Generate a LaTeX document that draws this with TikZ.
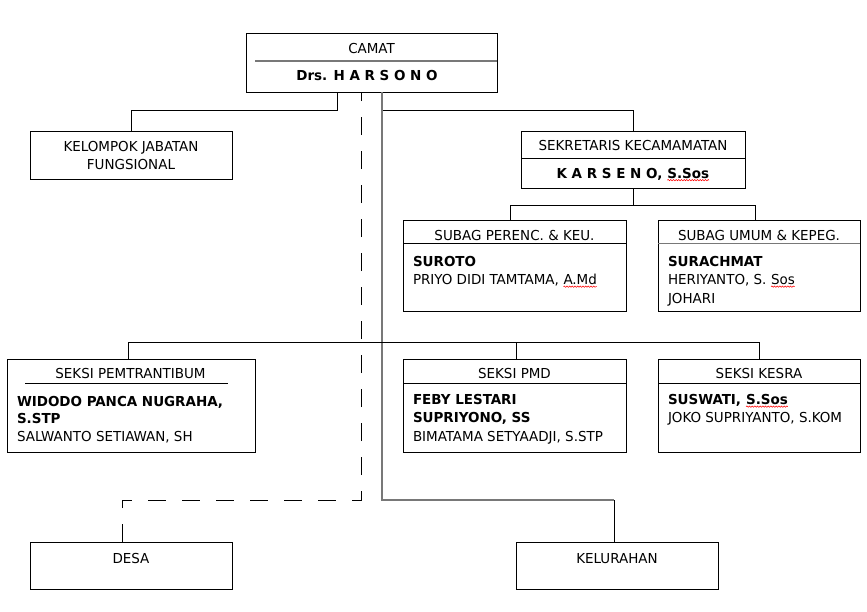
\documentclass[tikz,border=0pt]{standalone}
\usepackage{fontspec}
\setmainfont[FakeStretch=1.09]{DejaVu Sans Condensed}
\usetikzlibrary{fit,calc,decorations.pathmorphing}
\definecolor{lgray}{RGB}{120,120,120}
\newcommand\sperr[1]{\tikz[baseline=(w.base)]{\node[inner sep=0pt,outer sep=0pt](w){#1};\draw[red,line width=0.4pt,decorate,decoration={snake,amplitude=0.5pt,segment length=2pt}]([yshift=-1.6pt]w.base west)--([yshift=-1.6pt]w.base east);}}
\tikzset{
  box/.style={draw, line width=0.75pt, inner sep=0pt, outer sep=0pt},
  txt/.style={inner sep=0pt, outer sep=0pt, anchor=base, font=\fontsize{10.3}{12}\selectfont},
  txtb/.style={txt, font=\fontsize{10.3}{12}\selectfont\bfseries},
  ltxt/.style={txt, anchor=base west},
  ltxtb/.style={txtb, anchor=base west},
  conn/.style={line width=0.75pt},
  dsh/.style={conn, dash pattern=on 13.5pt off 12pt},
}
\begin{document}
\begin{tikzpicture}[x=0.75pt,y=-0.75pt]
\useasboundingbox (0,0) rectangle (867,611);
% boxes
\node[box, fit={(246,33)(497,92)}] (camat) {};
\node[box, fit={(30,131)(232,179)}] (kjf) {};
\node[box, fit={(521,131)(745,188)}] (sek) {};
\node[box, fit={(403,220)(626,311)}] (sp) {};
\node[box, fit={(658,220)(860,311)}] (su) {};
\node[box, fit={(7,359)(255,452)}] (pem) {};
\node[box, fit={(403,359)(626,452)}] (pmd) {};
\node[box, fit={(658,359)(860,452)}] (kesra) {};
\node[box, fit={(30,542)(232,589)}] (desa) {};
\node[box, fit={(516,542)(718,589)}] (kel) {};
% dividers
\draw[lgray, line width=1.5pt] (255,60.5) -- (497,60.5);
\draw[conn] (521,158) -- (745,158);
\draw[conn] (403,243.5) -- (626,243.5);
\draw[conn, lgray] (658,243.5) -- (860,243.5);
\draw[conn] (25,383.5) -- (228,383.5);
\draw[conn] (403,383.5) -- (626,383.5);
\draw[conn] (658,383.5) -- (860,383.5);
% connectors
\draw[conn] (camat.south west) ++(91,0) -- ++(0,18) -| (kjf.north);
\draw[conn] (camat.south west) ++(136,18) -| (sek.north);
\draw[conn, lgray, line width=1pt] (camat.south west) ++(136,0) -- ++(0,408) -| ($(kel.north)+(-3,-42)$);
\draw[conn] ($(kel.north)+(-3,0)$) -- ++(0,-42);
\draw[dsh] ($(desa.north west)+(92,0)$) |- ($(camat.south west)+(115,408)$) -- (camat.south west -| {$(camat.south west)+(115,0)$});
\draw[conn] (sek.south) -- ++(0,17);
\draw[conn] ($(sp.north)+(-4.5,0)$) |- ($(su.north)+(-4,-15)$) -- ($(su.north)+(-4,0)$);
\draw[conn] ($(pem.north)+(-3,0)$) -- ++(0,-17) -| (kesra.north);
\draw[conn] ($(pmd.north)+(1.5,0)$) -- ++(0,-17);
% texts
\node[txt] (t1) at (371.5,53) {CAMAT};
\node[txtb] (t2) at (367,80) {Drs. H A R S O N O};
\node[txt] (t3) at (131,151) {KELOMPOK JABATAN};
\node[txt] (t4) at (131,169) {FUNGSIONAL};
\node[txt] (t5) at (633,150) {SEKRETARIS KECAMAMATAN};
\node[txtb] (t6) at (633,178) {K A R S E N O, \sperr{S.Sos}};
\node[txt] (t7) at (514.5,240) {SUBAG PERENC. \& KEU.};
\node[txt] (t8) at (759,240) {SUBAG UMUM \& KEPEG.};
\node[ltxtb] (t9) at (413,266) {SUROTO};
\node[ltxt] (t10) at (413,284.5) {PRIYO DIDI TAMTAMA, \sperr{A.Md}};
\node[ltxtb] (t11) at (668,266) {SURACHMAT};
\node[ltxt] (t12) at (668,284.5) {HERIYANTO, S. \sperr{Sos}};
\node[ltxt] (t13) at (668,303) {JOHARI};
\node[txt] (t14) at (130.5,378) {SEKSI PEMTRANTIBUM};
\node[txt] (t15) at (514.5,378) {SEKSI PMD};
\node[txt] (t16) at (759,378) {SEKSI KESRA};
\node[ltxtb] (t17) at (17,406) {WIDODO PANCA NUGRAHA,};
\node[ltxtb] (t18) at (17,423.5) {S.STP};
\node[ltxt] (t19) at (17,441) {SALWANTO SETIAWAN, SH};
\node[ltxtb] (t20) at (413,404.5) {FEBY LESTARI};
\node[ltxtb] (t21) at (413,422.5) {SUPRIYONO, SS};
\node[ltxt] (t22) at (413,441) {BIMATAMA SETYAADJI, S.STP};
\node[ltxtb] (t23) at (668,404.5) {SUSWATI, \sperr{S.Sos}};
\node[ltxt] (t24) at (668,422.5) {JOKO SUPRIYANTO, S.KOM};
\node[txt] (t25) at (131,563) {DESA};
\node[txt] (t26) at (617,563) {KELURAHAN};
\end{tikzpicture}
\end{document}
